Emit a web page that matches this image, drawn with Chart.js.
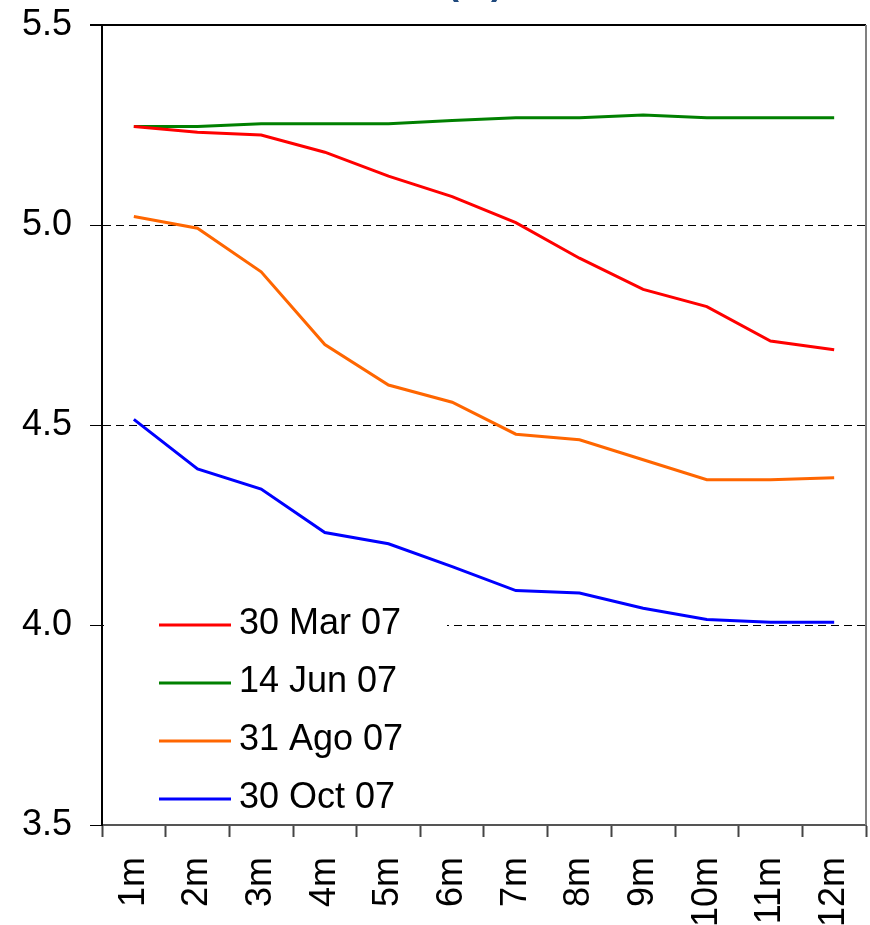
<!DOCTYPE html>
<html lang="en">
<head>
    <meta charset="UTF-8">
    <title>Tasas forward (%)</title>
    <script src="https://cdn.jsdelivr.net/npm/chart.js"></script>
    <style>
        body {
            margin: 0;
            padding: 0;
            background-color: white;
        }
        .chart-box {
            width: 870px;
            height: 925px;
        }
    </style>
</head>
<body>
    <div class="chart-box">
        <canvas id="curveChart" width="870" height="925"></canvas>
    </div>

    <script>
        const tenors = ['1m', '2m', '3m', '4m', '5m', '6m', '7m', '8m', '9m', '10m', '11m', '12m'];
        const mar07 = [5.246, 5.232, 5.225, 5.182, 5.122, 5.071, 5.006, 4.917, 4.839, 4.796, 4.710, 4.688];
        const jun07 = [5.246, 5.246, 5.253, 5.253, 5.253, 5.261, 5.268, 5.268, 5.275, 5.268, 5.268, 5.268];
        const ago07 = [5.021, 4.992, 4.883, 4.701, 4.600, 4.557, 4.477, 4.463, 4.413, 4.363, 4.363, 4.368];
        const oct07 = [4.514, 4.390, 4.340, 4.231, 4.203, 4.146, 4.086, 4.080, 4.042, 4.014, 4.007, 4.007];
        const seriesNames = ['30 Mar 07', '14 Jun 07', '31 Ago 07', '30 Oct 07'];
        const seriesColors = ['#FF0000', '#008000', '#FF6600', '#0000FF'];
        const yTicks = [3.5, 4.0, 4.5, 5.0, 5.5];

        // frame, cut-off title and the boxed legend inside the plot
        const framePlugin = {
            id: 'frame',
            afterDatasetsDraw(chart) {
                const ctx = chart.ctx;
                const area = chart.chartArea;
                ctx.save();

                // top border and right border
                ctx.lineWidth = 2;
                ctx.strokeStyle = '#000000';
                ctx.beginPath();
                ctx.moveTo(area.left - 12, area.top);
                ctx.lineTo(area.right, area.top);
                ctx.stroke();
                ctx.strokeStyle = '#808080';
                ctx.beginPath();
                ctx.moveTo(area.right, area.top);
                ctx.lineTo(area.right, area.bottom);
                ctx.stroke();

                // title, mostly outside the picture
                ctx.fillStyle = '#1F497D';
                ctx.font = 'bold 36px Arial, "Liberation Sans", sans-serif';
                ctx.textAlign = 'center';
                ctx.textBaseline = 'alphabetic';
                ctx.fillText('(%)', 475, -6);

                // legend
                ctx.fillStyle = '#ffffff';
                ctx.fillRect(area.left + 2, 598, 447 - area.left - 2, area.bottom - 600);
                ctx.font = '36px Arial, "Liberation Sans", sans-serif';
                ctx.textAlign = 'left';
                chart.data.datasets.forEach((ds, i) => {
                    const y = 625 + i * 58;
                    ctx.strokeStyle = ds.borderColor;
                    ctx.lineWidth = 3;
                    ctx.beginPath();
                    ctx.moveTo(159, y);
                    ctx.lineTo(231, y);
                    ctx.stroke();
                    ctx.fillStyle = '#000000';
                    ctx.fillText(ds.label, 239, y + 9);
                });
                ctx.restore();
            }
        };

        const ctx = document.getElementById('curveChart').getContext('2d');
        new Chart(ctx, {
            type: 'line',
            data: {
                labels: tenors,
                datasets: [mar07, jun07, ago07, oct07].map((values, i) => ({
                    label: seriesNames[i],
                    data: values,
                    borderColor: seriesColors[i],
                    backgroundColor: seriesColors[i],
                    borderWidth: 3,
                    pointRadius: 0,
                    tension: 0,
                    fill: false
                }))
            },
            options: {
                responsive: false,
                animation: false,
                layout: {
                    padding: { top: 25, right: 4, left: 0, bottom: 0 }
                },
                plugins: {
                    legend: { display: false },
                    tooltip: { enabled: false }
                },
                scales: {
                    x: {
                        offset: true,
                        grid: {
                            offset: true,
                            drawOnChartArea: false,
                            drawTicks: true,
                            tickLength: 12,
                            tickColor: '#444444',
                            tickWidth: 2
                        },
                        border: { color: '#555555', width: 2 },
                        ticks: {
                            font: { family: 'Arial, "Liberation Sans", sans-serif', size: 36 },
                            color: '#000000',
                            minRotation: 90,
                            maxRotation: 90,
                            padding: 20
                        },
                        afterFit(scale) {
                            scale.height = 100;
                            scale.paddingLeft = 0;
                            scale.paddingRight = 0;
                        }
                    },
                    y: {
                        min: 3.5,
                        max: 5.5,
                        afterBuildTicks(scale) {
                            scale.ticks = yTicks.map(v => ({ value: v }));
                        },
                        grid: {
                            color: ctx => (ctx.tick && (ctx.tick.value === 4 || ctx.tick.value === 4.5 || ctx.tick.value === 5)) ? '#000000' : 'rgba(0,0,0,0)',
                            lineWidth: 1,
                            tickBorderDash: [],
                            tickColor: '#000000',
                            tickLength: 12,
                            tickWidth: 1
                        },
                        border: { color: '#000000', width: 2, dash: [8, 5] },
                        ticks: {
                            font: { family: 'Arial, "Liberation Sans", sans-serif', size: 36 },
                            color: '#000000',
                            padding: 18,
                            callback: value => Number(value).toFixed(1)
                        },
                        afterFit(scale) {
                            scale.width = 102;
                            scale.paddingTop = 0;
                            scale.paddingBottom = 0;
                        }
                    }
                }
            },
            plugins: [framePlugin]
        });
    </script>
</body>
</html>
